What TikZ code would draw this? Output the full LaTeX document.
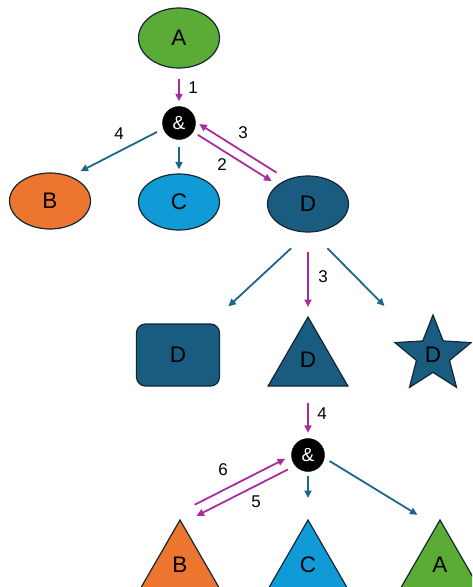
\documentclass[tikz,border=0pt]{standalone}
\usepackage{fontspec}
\setmainfont{Liberation Sans}
\usetikzlibrary{shapes.geometric,arrows.meta,calc}
\definecolor{leafgreen}{RGB}{90,172,55}
\definecolor{leaforange}{RGB}{236,118,48}
\definecolor{leafblue}{RGB}{16,155,215}
\definecolor{deepblue}{RGB}{26,92,128}
\definecolor{outline}{RGB}{20,38,52}
\definecolor{linkblue}{RGB}{28,102,138}
\definecolor{visitpink}{RGB}{168,44,160}
\begin{document}
\begin{tikzpicture}[x=1pt,y=-1pt,
  shapeline/.style={draw=outline, line width=1.2pt},
  oval/.style={ellipse, shapeline, minimum width=81pt, minimum height=56pt, inner sep=0pt,
    font=\fontsize{22.5}{22.5}\selectfont},
  andnode/.style={circle, fill=black, draw=black, minimum size=33pt, inner sep=0pt,
    text=white, font=\fontsize{19}{19}\selectfont},
  tri/.style={regular polygon, regular polygon sides=3, minimum size=92pt, inner sep=0pt,
    outer sep=0pt, shapeline, font=\fontsize{22.5}{22.5}\selectfont},
  flow/.style={line width=1.8pt, -{Triangle[length=7.5pt,width=7pt]}},
  ctrl/.style={flow, draw=linkblue, fill=linkblue},
  visit/.style={flow, draw=visitpink, fill=visitpink},
  num/.style={inner sep=0pt, font=\fontsize{17}{17}\selectfont},
]
\useasboundingbox (0,0) rectangle (472,587);
\clip (0,0) rectangle (472,587);

% upper tree
\node[oval, fill=leafgreen, minimum height=60pt] (A) at (179,38) {A};
\node[andnode] (and1) at (179,123) {\&};
\node[oval, fill=leaforange] (B) at (50,201) {B};
\node[oval, fill=leafblue] (C) at (179,202) {C};
\node[oval, fill=deepblue] (D) at (308,204) {D};

% variants of D
\node[shapeline, fill=deepblue, rounded corners=9pt, minimum width=83pt, minimum height=62pt,
  font=\fontsize{22.5}{22.5}\selectfont] (Dr) at (178,355) {D};
\node[tri, fill=deepblue] (Dt) at (308,363) {\raisebox{6pt}{D}};
\node[star, star points=5, star point ratio=2.3, minimum size=80pt, inner sep=0pt, shapeline,
  fill=deepblue, font=\fontsize{22.5}{22.5}\selectfont] (St) at (433,355) {D};

% lower tree
\node[andnode] (and2) at (308,455) {\&};
\node[tri, fill=leaforange] (Bt) at (180,566) {\raisebox{3pt}{B}};
\node[tri, fill=leafblue] (Ct) at (308,566) {\raisebox{3pt}{C}};
\node[tri, fill=leafgreen] (At) at (440,566) {\raisebox{3pt}{A}};

% connectors, upper tree
\draw[visit, shorten <=10pt, shorten >=5pt] (A) -- (and1);
\draw[ctrl, shorten <=7pt, shorten >=4pt] (and1) -- (C);
\draw[ctrl, shorten <=7pt, shorten >=11pt] (and1.200) -- (B.50);
\draw[visit, shorten <=5.5pt, shorten >=7pt] (and1) -- (D);
\draw[visit, transform canvas={shift={(5,-8.5)}}, shorten <=7pt, shorten >=1.3pt] (D) -- (and1);

% connectors to the variants of D
\draw[ctrl, shorten <=23pt, shorten >=25pt] (D.south) -- ([xshift=-10pt]Dr.north east);
\draw[visit, shorten <=19pt, shorten >=10pt] (D.south) -- (Dt.corner 1);
\draw[ctrl, shorten <=22pt, shorten >=52pt] ([xshift=4pt]D.south) -- ([shift={(-12,-12)}]St.center);

% connectors, lower tree
\draw[visit, shorten <=17pt, shorten >=5.5pt] (Dt.south) -- (and2);
\draw[ctrl, shorten <=4.5pt, shorten >=22pt] (and2) -- (Ct.corner 1);
\draw[ctrl, shorten <=6pt, shorten >=10pt] (and2.-10) -- ([xshift=-14pt]At.corner 1);
\draw[visit, transform canvas={shift={(1.7,3.4)}}, shorten <=7.7pt, shorten >=16.6pt] (and2) -- (Bt.corner 1);
\draw[visit, transform canvas={shift={(-3.2,-6.2)}}, shorten <=20pt, shorten >=5.4pt] (Bt.corner 1) -- (and2);

% step numbers
\node[num] (n1) at (193,88) {1};
\node[num] (n4a) at (119,134) {4};
\node[num] (n3a) at (243,133) {3};
\node[num] (n2) at (222,165) {2};
\node[num] (n3b) at (323,277) {3};
\node[num] (n4b) at (322,414) {4};
\node[num] (n6) at (223,470) {6};
\node[num] (n5) at (256,502) {5};
\end{tikzpicture}
\end{document}
